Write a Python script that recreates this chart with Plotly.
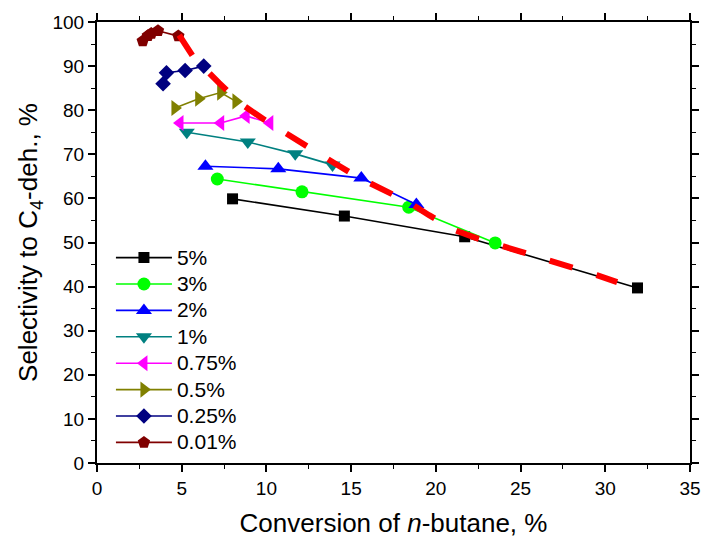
import plotly.graph_objects as go

names = ["5%", "3%", "2%", "1%", "0.75%", "0.5%", "0.25%", "0.01%"]
colors = ["#000000", "#00FF00", "#0000FF", "#008080", "#FF00FF", "#808000", "#000080", "#800000"]
symbols = ["square", "circle", "triangle-up", "triangle-down", "triangle-left", "triangle-right", "diamond", "pentagon"]
sizes = [11, 13, 14, 14, 14, 14, 12, 13]

x_5 = [8.0, 14.6, 21.7, 31.9]
y_5 = [59.9, 56.0, 51.3, 39.7]
x_3 = [7.1, 12.1, 18.4, 23.5]
y_3 = [64.4, 61.5, 58.0, 49.9]
x_2 = [6.4, 10.7, 15.6, 18.85]
y_2 = [67.3, 66.7, 64.6, 58.6]
x_1 = [5.3, 8.9, 11.7, 13.9]
y_1 = [75.0, 72.8, 70.1, 67.6]
x_075 = [4.9, 7.3, 8.8, 10.2]
y_075 = [77.1, 77.1, 78.7, 77.1]
x_05 = [4.6, 6.0, 7.3, 8.2]
y_05 = [80.5, 82.6, 84.0, 82.0]
x_025 = [3.9, 4.1, 5.2, 6.3]
y_025 = [86.0, 88.5, 89.0, 90.0]
x_001 = [2.7, 3.0, 3.2, 3.6, 4.8]
y_001 = [95.7, 96.9, 97.4, 98.0, 96.8]

xs = [x_5, x_3, x_2, x_1, x_075, x_05, x_025, x_001]
ys = [y_5, y_3, y_2, y_1, y_075, y_05, y_025, y_001]

x_env = [4.85, 5.7, 7.2, 8.45, 10.0, 11.2, 12.8, 14.1, 15.5, 16.8, 18.45, 19.6, 21.1, 22.4, 23.8, 25.1, 26.6, 27.9, 29.5, 30.7]
y_env = [97.0, 92.0, 86.2, 81.6, 77.5, 74.6, 70.7, 67.8, 64.6, 62.1, 59.0, 56.2, 52.8, 51.0, 49.4, 47.8, 46.0, 44.4, 42.6, 41.0]

FONT = "Liberation Sans, Arial"

fig = go.Figure()
for n, c, s, sz, xx, yy in zip(names, colors, symbols, sizes, xs, ys):
    fig.add_trace(go.Scatter(x=xx, y=yy,
                             name="<span style='font-size:21px'>" + n + "</span>",
                             mode="lines+markers",
                             line=dict(color=c, width=1.6),
                             marker=dict(symbol=s, size=sz, color=c)))

fig.add_trace(go.Scatter(x=x_env, y=y_env, mode="lines", showlegend=False,
                         line=dict(color="#FF0000", width=6, dash="24px,25px")))

axis_common = dict(showline=True, linecolor="black", linewidth=2, mirror="ticks",
                   ticks="outside", ticklen=7, tickwidth=1.5, tickcolor="black",
                   showgrid=False, zeroline=False,
                   tickfont=dict(family=FONT, size=19, color="black"))

fig.update_xaxes(range=[0, 35], dtick=5, tick0=0,
                 minor=dict(ticks="outside", ticklen=4, dtick=2.5, tickcolor="black", tickwidth=1.2),
                 title=dict(text="Conversion of <i>n</i>-butane, %",
                            font=dict(family=FONT, size=26, color="black"), standoff=16),
                 **axis_common)
fig.update_yaxes(range=[0, 100], dtick=10, tick0=0,
                 minor=dict(ticks="outside", ticklen=4, dtick=5, tickcolor="black", tickwidth=1.2),
                 title=dict(text="Selectivity to C<sub>4</sub>-deh., %",
                            font=dict(family=FONT, size=26, color="black"), standoff=7),
                 **axis_common)

fig.update_layout(width=710, height=545, paper_bgcolor="white", plot_bgcolor="white",
                  margin=dict(l=97, r=9, t=22, b=82),
                  legend=dict(x=0.0235, y=0.507, xanchor="left", yanchor="top",
                              bgcolor="rgba(0,0,0,0)", borderwidth=0,
                              font=dict(family=FONT, size=18, color="black"),
                              itemwidth=56))

fig.write_html("out.html")
